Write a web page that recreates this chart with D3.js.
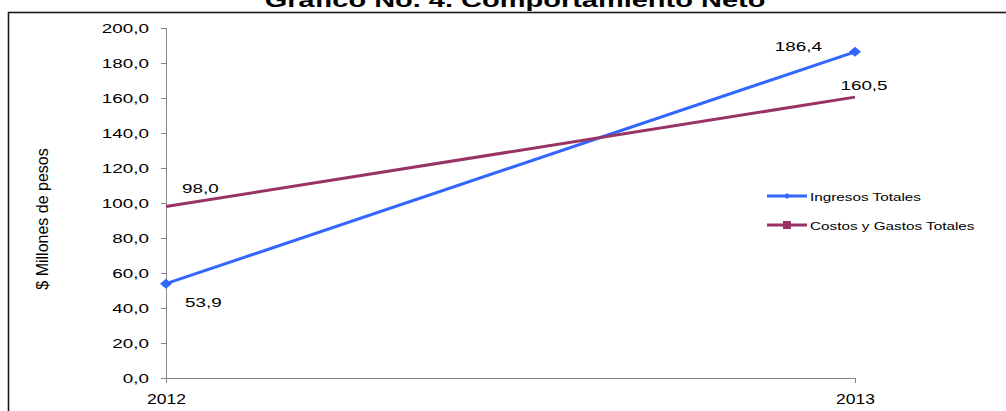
<!DOCTYPE html>
<html>
<head>
<meta charset="utf-8">
<script src="https://cdn.jsdelivr.net/npm/d3@7"></script>
<style>
  body { margin: 0; background: #fff; }
  svg { display: block; font-family: "Liberation Sans", Arial, sans-serif; }
  .axis path, .axis line { stroke: #868686; shape-rendering: crispEdges; }
</style>
</head>
<body>
<div id="chart"></div>
<script>
'use strict';

// chart values
const years = ['2012', '2013'];
const ingresos = [53.9, 186.4];
const costos = [98.0, 160.5];
const yTicks = [0, 20, 40, 60, 80, 100, 120, 140, 160, 180, 200];
const seriesNames = ['Ingresos Totales', 'Costos y Gastos Totales'];
const chartTitle = 'Gráfico No. 4. Comportamiento Neto';
const yTitle = '$ Millones de pesos';

const width = 1006, height = 411;
const plot = { left: 166, right: 855, top: 28, bottom: 378 };
const colors = ['#3366ff', '#993366'];
const sx = 1.45; // text in the reference is stretched horizontally

const fmt = (v) => v.toFixed(1).replace('.', ',');

const svg = d3.select('#chart')
    .append('svg')
    .attr('width', width)
    .attr('height', height);

// outer frame
svg.append('rect')
    .attr('x', 8.5)
    .attr('y', 12.5)
    .attr('width', 1100)
    .attr('height', 600)
    .attr('fill', 'none')
    .attr('stroke', '#1a1a1a')
    .attr('stroke-width', 1.6);

const x = d3.scalePoint().domain(years).range([plot.left, plot.right]);
const y = d3.scaleLinear().domain([0, 200]).range([plot.bottom, plot.top]);

function stretchedText(parent, tx, ty, txt, size, anchor, scale) {
    return parent.append('text')
        .attr('transform', 'translate(' + [tx, ty] + ') scale(' + scale + ',1)')
        .attr('text-anchor', anchor || 'start')
        .attr('font-size', size)
        .attr('fill', '#000')
        .text(txt);
}

// title (cut at the top, as in the picture)
stretchedText(svg, 515, 7, chartTitle, 20, 'middle', sx).attr('font-weight', 'bold');

// y axis
const yAxis = svg.append('g')
    .attr('class', 'axis')
    .attr('transform', 'translate(' + plot.left + ',0)')
    .call(d3.axisLeft(y).tickValues(yTicks).tickSize(5).tickSizeOuter(0).tickFormat(fmt));
yAxis.selectAll('text')
    .attr('x', 0)
    .attr('dy', '0.35em')
    .attr('font-size', 13)
    .attr('fill', '#000')
    .attr('font-family', null)
    .attr('transform', 'translate(-17,0) scale(' + sx + ',1)');
yAxis.select('.domain').attr('d', 'M0.5,' + plot.top + 'V' + plot.bottom);

// x axis
const xAxis = svg.append('g')
    .attr('class', 'axis')
    .attr('transform', 'translate(0,' + plot.bottom + ')')
    .call(d3.axisBottom(x).tickSize(5).tickSizeOuter(0));
xAxis.selectAll('text')
    .attr('y', 0)
    .attr('dy', 0)
    .attr('font-size', 14)
    .attr('fill', '#000')
    .attr('font-family', null)
    .attr('transform', 'translate(0,26) scale(1.25,1)');

// y title
svg.append('text')
    .attr('transform', 'translate(48,219) rotate(-90)')
    .attr('text-anchor', 'middle')
    .attr('font-size', 16)
    .attr('fill', '#000')
    .text(yTitle);

// lines
const line = d3.line()
    .x((d, i) => x(years[i]))
    .y((d) => y(d));

[ingresos, costos].forEach((vals, k) => {
    svg.append('path')
        .datum(vals)
        .attr('fill', 'none')
        .attr('stroke', colors[k])
        .attr('stroke-width', 3)
        .attr('d', line);
});

const diamond = (w, h) => 'M0,' + (-h) + 'L' + w + ',0L0,' + h + 'L' + (-w) + ',0Z';

svg.selectAll('.mk-ingresos')
    .data(ingresos)
    .enter()
        .append('path')
        .attr('class', 'mk-ingresos')
        .attr('transform', (d, i) => 'translate(' + [x(years[i]), y(d)] + ')')
        .attr('d', diamond(6, 5))
        .attr('fill', colors[0]);

// data labels: offsets from each point
const labelOffsets = {
    ingresos: [[19, 23, 'start'], [-33, -1, 'end']],
    costos: [[16, -14, 'start'], [9, -7, 'middle']]
};

ingresos.forEach((v, i) => {
    const o = labelOffsets.ingresos[i];
    stretchedText(svg, x(years[i]) + o[0], y(v) + o[1], fmt(v), 13, o[2], sx);
});
costos.forEach((v, i) => {
    const o = labelOffsets.costos[i];
    stretchedText(svg, x(years[i]) + o[0], y(v) + o[1], fmt(v), 13, o[2], sx);
});

// legend
const legend = svg.append('g').attr('transform', 'translate(767,196)');
seriesNames.forEach((name, k) => {
    const g = legend.append('g').attr('transform', 'translate(0,' + k * 29 + ')');
    g.append('line')
        .attr('x1', 0).attr('x2', 40)
        .attr('stroke', colors[k])
        .attr('stroke-width', 3);
    if (k === 0) {
        g.append('path').attr('transform', 'translate(20,0)').attr('d', diamond(3.5, 3)).attr('fill', colors[k]);
    } else {
        g.append('rect').attr('x', 16).attr('y', -4).attr('width', 8).attr('height', 8).attr('fill', colors[k]);
    }
    stretchedText(g, 43, 4.5, name, 11.5, 'start', 1.33);
});
</script>
</body>
</html>
